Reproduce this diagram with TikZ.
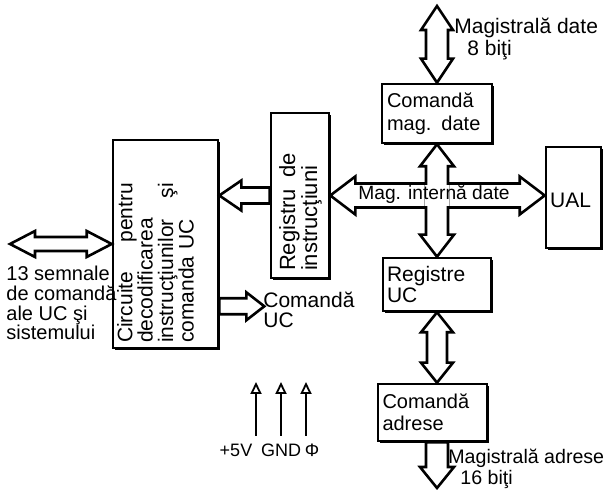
\documentclass[tikz,border=0pt]{standalone}
\usepackage{fontspec}
\setmainfont{Liberation Sans}
\usetikzlibrary{calc,shadows,arrows.meta}

% double horizontal block arrow: left apex, right apex, shaft half, head half, head length
\newcommand\dblH[5]{%
  \draw[barrow] (#1) -- ($(#1)+(#5,-#4)$) -- ($(#1)+(#5,-#3)$) -- ($(#2)+(-#5,-#3)$) -- ($(#2)+(-#5,-#4)$) -- (#2)
    -- ($(#2)+(-#5,#4)$) -- ($(#2)+(-#5,#3)$) -- ($(#1)+(#5,#3)$) -- ($(#1)+(#5,#4)$) -- cycle;}
% double vertical block arrow: top apex, bottom apex
\newcommand\dblV[5]{%
  \draw[barrow] (#1) -- ($(#1)+(#4,#5)$) -- ($(#1)+(#3,#5)$) -- ($(#2)+(#3,-#5)$) -- ($(#2)+(#4,-#5)$) -- (#2)
    -- ($(#2)+(-#4,-#5)$) -- ($(#2)+(-#3,-#5)$) -- ($(#1)+(-#3,#5)$) -- ($(#1)+(-#4,#5)$) -- cycle;}
% single block arrow pointing left: tail, apex
\newcommand\sglL[5]{%
  \draw[barrow] (#2) -- ($(#2)+(#5,-#4)$) -- ($(#2)+(#5,-#3)$) -- ($(#1)+(0,-#3)$) -- ($(#1)+(0,#3)$)
    -- ($(#2)+(#5,#3)$) -- ($(#2)+(#5,#4)$) -- cycle;}
% single block arrow pointing right: tail, apex
\newcommand\sglR[5]{%
  \draw[barrow] (#2) -- ($(#2)+(-#5,-#4)$) -- ($(#2)+(-#5,-#3)$) -- ($(#1)+(0,-#3)$) -- ($(#1)+(0,#3)$)
    -- ($(#2)+(-#5,#3)$) -- ($(#2)+(-#5,#4)$) -- cycle;}
% single block arrow pointing down: tail, apex
\newcommand\sglD[5]{%
  \draw[barrow] (#2) -- ($(#2)+(#4,-#5)$) -- ($(#2)+(#3,-#5)$) -- ($(#1)+(#3,0)$) -- ($(#1)+(-#3,0)$)
    -- ($(#2)+(-#3,-#5)$) -- ($(#2)+(-#4,-#5)$) -- cycle;}

\begin{document}
\begin{tikzpicture}[x=0.5pt,y=-0.5pt,
  box/.style={draw, line width=1.3pt, fill=white,
    drop shadow={shadow xshift=0.9pt, shadow yshift=-0.9pt, opacity=1, fill=black},
    inner sep=2pt, font=\fontsize{10}{11.5}\selectfont},
  barrow/.style={draw, fill=white, line width=1.3pt, line join=miter},
  lbl/.style={inner sep=0pt, align=left, font=\fontsize{10.5}{10}\selectfont},
  pwr/.style={line width=0.9pt, -{Triangle[open, length=6pt, width=5.5pt, line width=0.9pt]}}
]
\useasboundingbox (0,0) rectangle (611,490);

% boxes
\node[box, minimum width=55pt, minimum height=29.5pt, text width=50pt, align=left] (cmd) at (437,113.5) {Comandă\\mag. date};
\node[box, minimum width=29pt, minimum height=82.5pt] (ri) at (300,195.5) {};
\node[box, minimum width=52.5pt, minimum height=104pt] (circ) at (165.5,244) {};
\node[box, minimum width=27.5pt, minimum height=50.5pt] (ual) at (573.5,197.5) {};
\node[box, minimum width=54pt, minimum height=26.5pt, text width=50pt, align=left, font=\fontsize{10.5}{10.5}\selectfont] (reg) at (437,284.5) {Registre\\UC};
\node[box, minimum width=54.5pt, minimum height=28.5pt, text width=50pt, align=left, font=\fontsize{10}{11}\selectfont] (adr) at (432.5,412.5) {Comandă\\adrese};

% box texts
\node[lbl, rotate=90, anchor=north west, text width=59pt, font=\fontsize{11}{11}\selectfont] at ($(ri.south west)+(9,-8)$) {Registru\hfill de\\instrucţiuni};
\node[lbl, rotate=90, anchor=north west, text width=80pt, font=\fontsize{10.5}{10.2}\selectfont] at ($(circ.south west)+(5,-6)$)
  {Circuite\hfill pentru\\decodificarea\\instrucţiunilor\hfill şi\\comanda UC};
\node[lbl, anchor=west] (ualt) at ($(ual.west)+(5,3)$) {UAL};

% coordinates
\coordinate (sigL) at (10,244);
\coordinate (riA) at (ri.west -| circ.east);
\coordinate (cuT) at ($(circ.south east)+(0,-43)$);
\coordinate (cuA) at ($(cuT)+(45,0)$);
\coordinate (mtop) at (437,6);
\coordinate (busR) at (ri.east -| ual.west);
\coordinate (xc) at (ri.east -| reg.north);
\coordinate (adrN) at (reg.south |- adr.north);
\coordinate (adrS) at (reg.south |- adr.south);
\coordinate (abot) at (437,488);

% block arrows
\dblH{sigL}{circ.west}{7}{13}{25}
\sglL{ri.west}{riA}{8}{15}{22}
\sglR{cuT}{cuA}{8}{14}{18}
\dblV{mtop}{cmd.north}{11}{16}{24}
\dblH{ri.east}{busR}{12}{19}{25}
\dblV{cmd.south}{reg.north}{11}{17}{22}
\fill[white] ($(xc)+(-12.4,-10.6)$) rectangle ($(xc)+(12.4,10.6)$);
\dblV{reg.south}{adrN}{10}{16}{20}
\sglD{adrS}{abot}{11}{17}{21}

\node[lbl, font=\fontsize{9.6}{10}\selectfont] (bus) at ($(xc)+(-3,-1)$) {Mag. internă date};

% labels
\node[lbl, anchor=north west, font=\fontsize{10.5}{9.5}\selectfont] (md) at (454,18) {Magistrală date\\\hspace*{6.5pt}8 biţi};
\node[lbl, anchor=north west, font=\fontsize{9.8}{8.5}\selectfont] (ma) at (448,449) {Magistrală adrese\\\hspace*{6pt}16 biţi};
\node[lbl, anchor=north west, font=\fontsize{10}{9.8}\selectfont] (sig) at (6,266) {13 semnale\\de comandă\\ale UC şi\\sistemului};
\node[lbl, anchor=north west] (cuL) at (263,292) {Comandă\\UC};

% power inputs
\coordinate (p1b) at (256,436); \coordinate (p1t) at (256,382);
\coordinate (p2b) at (281,436); \coordinate (p2t) at (281,382);
\coordinate (p3b) at (306,436); \coordinate (p3t) at (306,382);
\draw[pwr] (p1b) -- (p1t);
\draw[pwr] (p2b) -- (p2t);
\draw[pwr] (p3b) -- (p3t);
\node[lbl, font=\fontsize{9}{9}\selectfont] (v5) at (236,450) {+5V};
\node[lbl, font=\fontsize{9}{9}\selectfont] (gnd) at (281,450) {GND};
\node[lbl, font=\fontsize{9}{9}\selectfont] (phi) at (312,450) {Φ};
\end{tikzpicture}
\end{document}
